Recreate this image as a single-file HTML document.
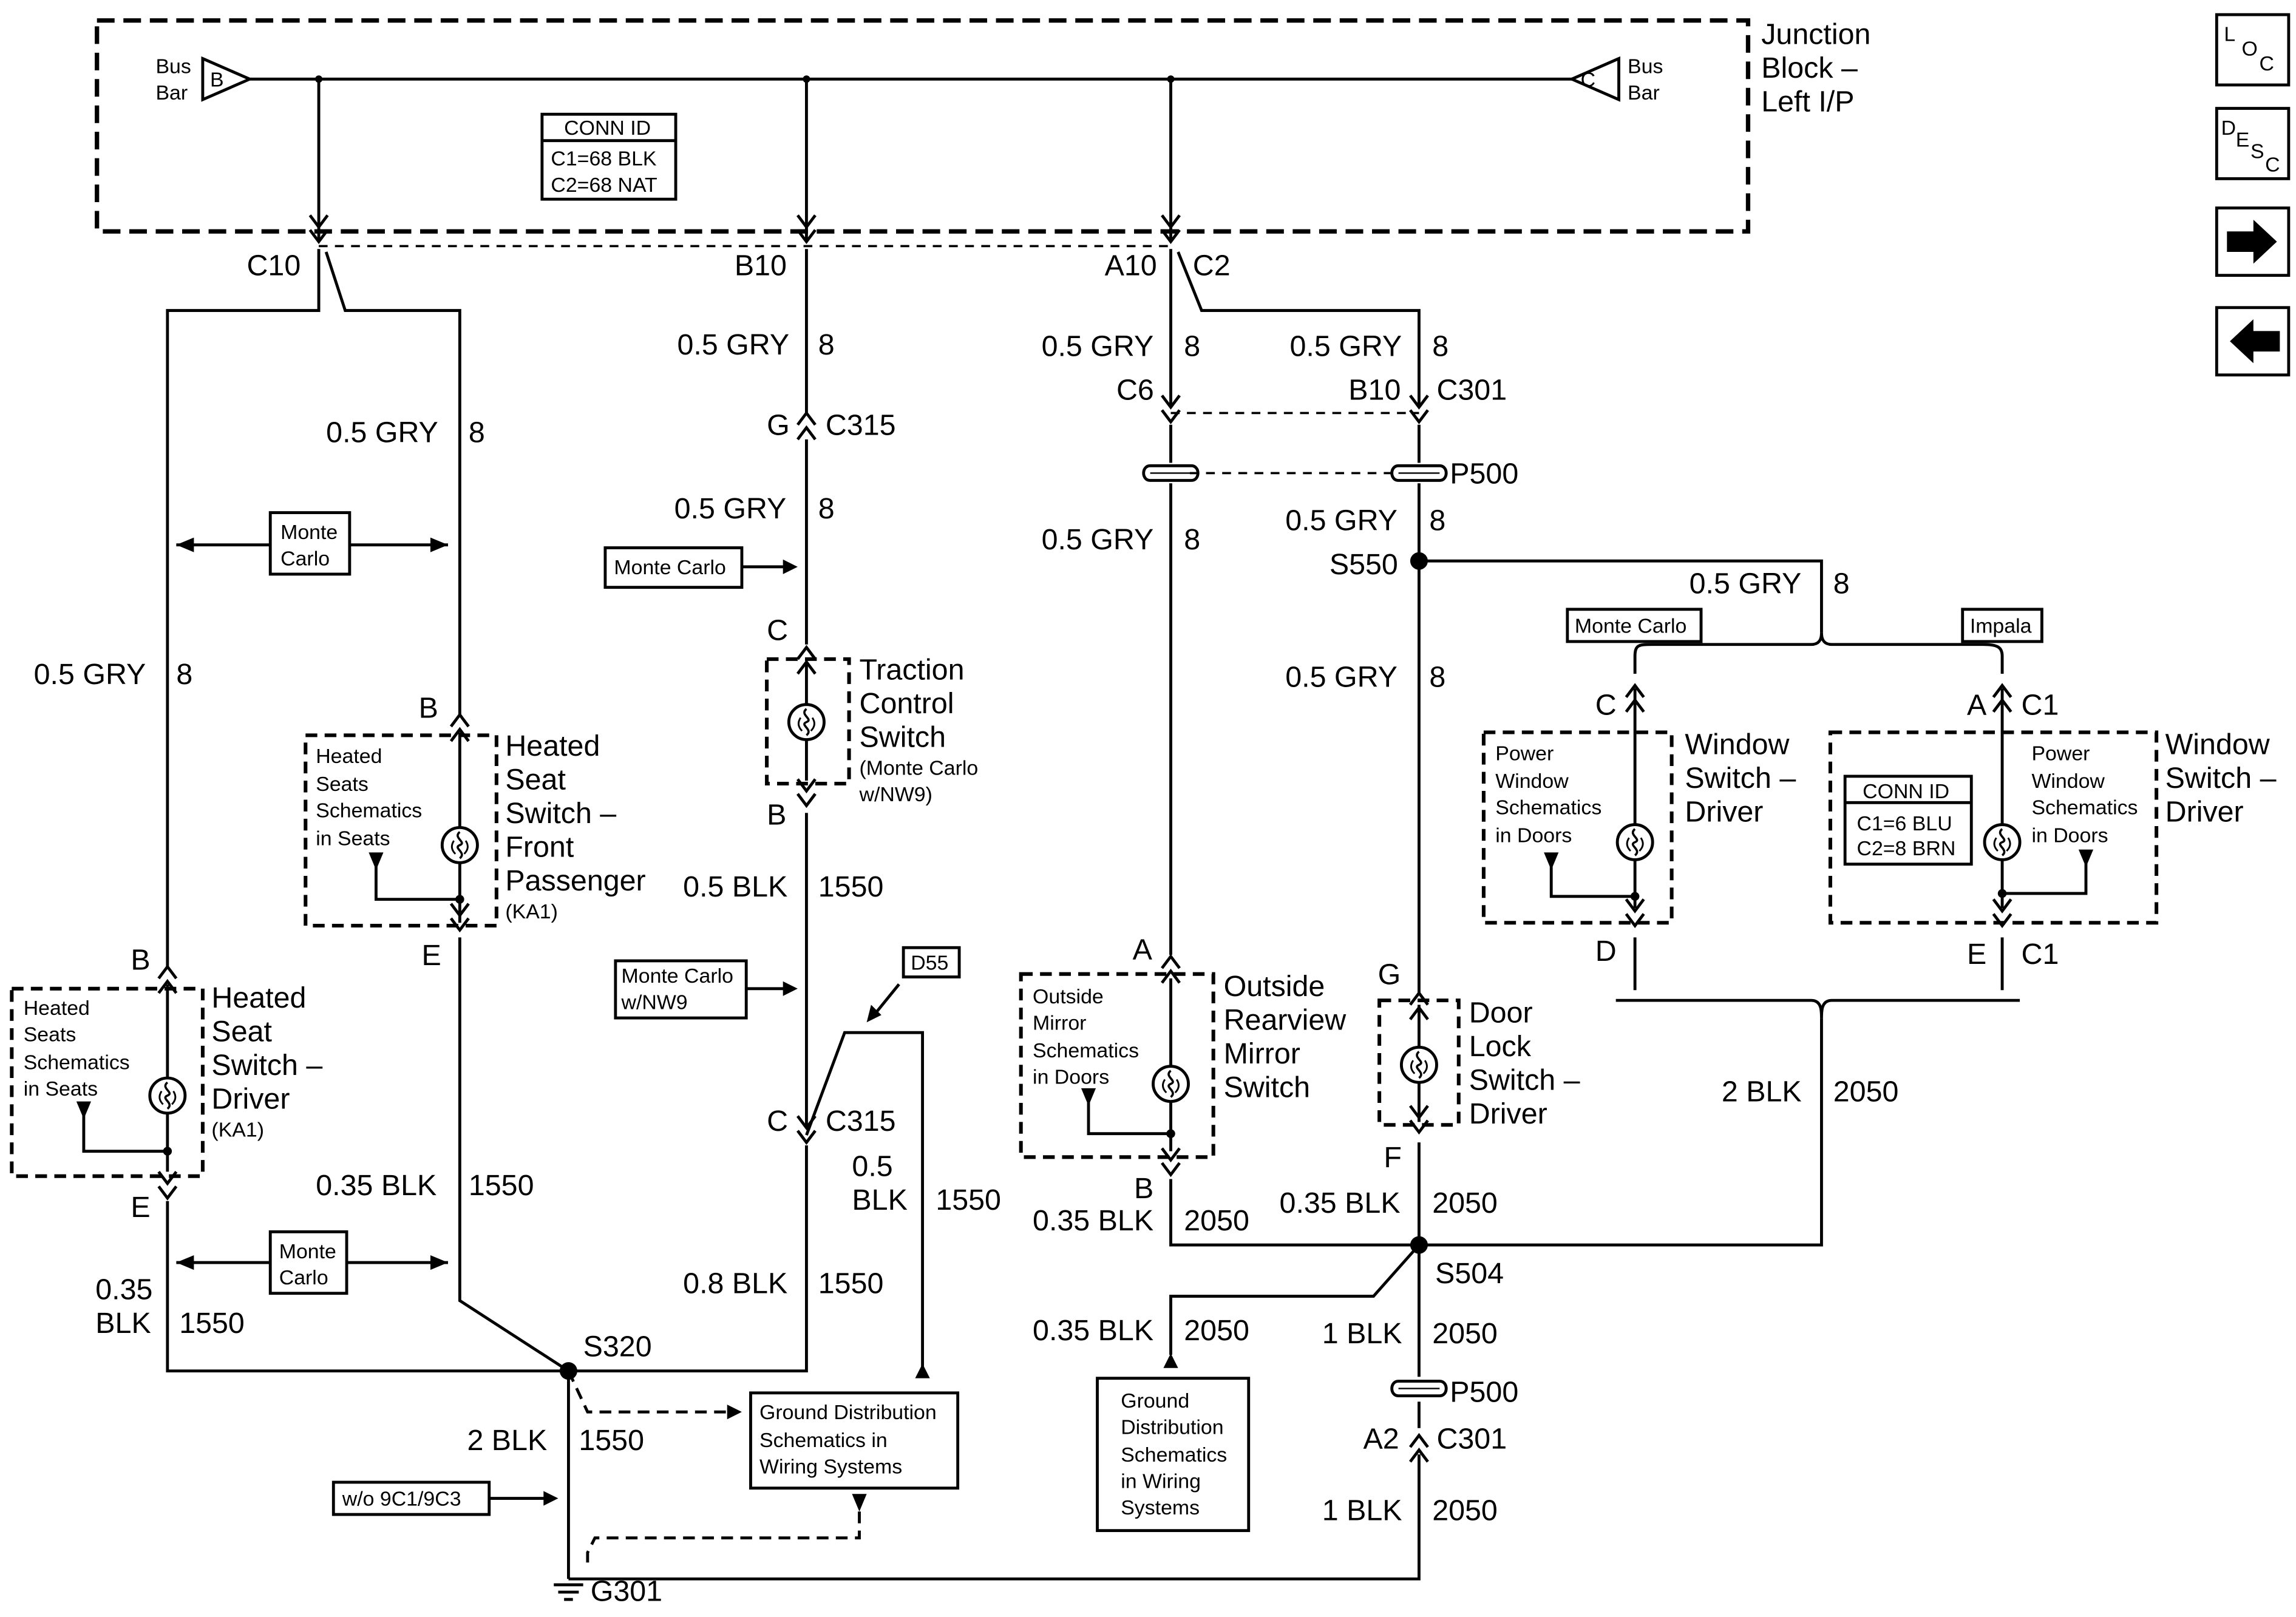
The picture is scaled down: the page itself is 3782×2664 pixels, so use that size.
<!DOCTYPE html>
<html><head><meta charset="utf-8"><style>
html,body{margin:0;padding:0;background:#fff;}
svg{display:block;}
text{font-family:"Liberation Sans",Arial,sans-serif;fill:#000;}
.l{font-size:20px;}
.s{font-size:14px;}
.m{font-size:16px;}
</style></head><body>
<svg width="3782" height="2664" viewBox="0 0 1563 1104" preserveAspectRatio="none" xmlns="http://www.w3.org/2000/svg">
<defs>
<g id="cd"><path d="M-6,-8 L0,0 L6,-8" fill="none" stroke="#000" stroke-width="2"/><path d="M-6,2 L0,10 L6,2" fill="none" stroke="#000" stroke-width="2"/></g>
<g id="cu"><path d="M-6,8 L0,0 L6,8" fill="none" stroke="#000" stroke-width="2"/><path d="M-6,-2 L0,-10 L6,-2" fill="none" stroke="#000" stroke-width="2"/></g>
<g id="sw"><circle r="12" fill="#fff" stroke="#000" stroke-width="2"/><path d="M0,-9 C-5,-5 5,-2 0,0 C-5,2 5,5 0,9" fill="none" stroke="#000" stroke-width="1.5"/><path d="M-4,-3 C-6,0 -6,3 -3,6 M4,-3 C6,0 6,3 3,6" fill="none" stroke="#000" stroke-width="1.2"/></g>
<g id="p5"><path d="M-14,-5 L14,-5 M-14,5 L14,5 M-14,-5 C-20,-5 -20,5 -14,5 M14,-5 C20,-5 20,5 14,5" fill="none" stroke="#000" stroke-width="2"/><path d="M-14,0 L14,0" stroke="#000" stroke-width="1"/></g>
</defs>
<g fill="none" stroke="#000" stroke-width="2">
<!-- junction block -->
<rect x="66" y="14" width="1124" height="144" stroke-width="3" stroke-dasharray="12 6"/>
<path d="M170,54 L1070,54"/>
<path d="M138,40 L170,54 L138,68 Z"/>
<path d="M1102,40 L1070,54 L1102,68 Z"/>
<path d="M217,54 V165 M549,54 V165 M797,54 V165"/>
<path d="M217,168 H797" stroke-dasharray="6 5" stroke-width="1.5"/>
<rect x="369" y="78" width="91" height="58"/>
<path d="M369,96 H460"/>
<!-- C10 branches -->
<path d="M217,170 V212 H114 V660"/>
<path d="M222,172 L235,212 H313 V488"/>
<path d="M120,372 H305 M120,862 H305"/>
<rect x="184" y="350" width="54" height="42" fill="#fff"/>
<rect x="184" y="841" width="52" height="42" fill="#fff"/>
<!-- front passenger switch -->
<rect x="208" y="502" width="130" height="130" stroke-dasharray="8 5" stroke-width="2.5"/>
<path d="M313,500 V630"/>
<path d="M256,590 V614 H313"/>
<path d="M313,640 V888 L387,936"/>
<!-- driver switch -->
<rect x="8" y="675" width="130" height="128" stroke-dasharray="8 5" stroke-width="2.5"/>
<path d="M114,672 V800"/>
<path d="M57,760 V786 H114"/>
<path d="M114,820 V936 H549 V782"/>
<path d="M387,936 V1078"/>
<path d="M387,1078 H966 V993"/>
<!-- middle B10 -->
<path d="M549,170 V282 M549,300 V440 M549,555 V770"/>
<rect x="522" y="450" width="56" height="85" stroke-dasharray="8 5" stroke-width="2.5"/>
<path d="M549,452 V533"/>
<rect x="412" y="374" width="93" height="27"/>
<path d="M505,387 H538"/>
<rect x="419" y="656" width="89" height="39"/>
<path d="M508,675 H538"/>
<rect x="615" y="647" width="38" height="20"/>
<path d="M612,672 L595,693"/>
<path d="M549,775 L575,705 H628 V935"/>
<rect x="227" y="1012" width="106" height="22"/>
<path d="M333,1023 H372"/>
<path d="M387,936 L400,964 H495" stroke-dasharray="8 5"/>
<rect x="511" y="951" width="141" height="65"/>
<path d="M585,1032 V1050 H405 L400,1060 V1070" stroke-dasharray="8 5"/>
<!-- A10 column -->
<path d="M797,170 V278 M802,172 L818,212 H966 V278"/>
<path d="M797,282 H966" stroke-dasharray="6 5" stroke-width="1.5"/>
<path d="M810,323 H952" stroke-dasharray="6 5" stroke-width="1.5"/>
<path d="M797,290 V316 M797,330 V652 M966,290 V316 M966,330 V678"/>
<rect x="695" y="665" width="131" height="125" stroke-dasharray="8 5" stroke-width="2.5"/>
<path d="M797,668 V786"/>
<path d="M741,750 V774 H797"/>
<path d="M797,805 V850 H1240 V695"/>
<path d="M966,383 H1240 V432"/>
<path d="M1113,460 V448 C1113,440 1116,440 1125,440 H1233 C1240,440 1240,434 1240,432 C1240,434 1240,440 1247,440 H1350 C1360,440 1363,442 1363,448 V460"/>
<path d="M1100,683 H1233 C1240,683 1240,690 1240,695 C1240,690 1240,683 1247,683 H1375"/>
<path d="M1113,640 V676 M1363,640 V676"/>
<rect x="1067" y="416" width="91" height="22"/>
<rect x="1336" y="416" width="54" height="22"/>
<rect x="939" y="683" width="54" height="85" stroke-dasharray="8 5" stroke-width="2.5"/>
<path d="M966,686 V766 M966,780 V850"/>
<path d="M966,850 L935,885 H797 V925"/>
<rect x="747" y="941" width="103" height="104"/>
<path d="M966,850 V940 M966,957 V975"/>
<!-- window switches -->
<path d="M1113,470 V620"/>
<rect x="1010" y="500" width="128" height="130" stroke-dasharray="8 5" stroke-width="2.5"/>
<path d="M1056,590 V612 H1113"/>
<path d="M1363,470 V620"/>
<rect x="1246" y="500" width="222" height="130" stroke-dasharray="8 5" stroke-width="2.5"/>
<rect x="1256" y="530" width="86" height="60"/>
<path d="M1256,548 H1342"/>
<path d="M1420,585 V610 H1363"/>
<!-- icons -->
<rect x="1509" y="10" width="49" height="48"/>
<rect x="1509" y="74" width="49" height="48"/>
<rect x="1509" y="142" width="49" height="46"/>
<rect x="1509" y="210" width="49" height="46"/>
</g>
<!-- arrows/dots -->
<g fill="#000">
<circle cx="217" cy="54" r="2.5"/><circle cx="549" cy="54" r="2.5"/><circle cx="797" cy="54" r="2.5"/>
<circle cx="387" cy="936" r="6"/><circle cx="966" cy="383" r="6"/><circle cx="966" cy="850" r="6"/>
<circle cx="313" cy="614" r="3"/><circle cx="114" cy="786" r="3"/><circle cx="797" cy="774" r="3"/><circle cx="1113" cy="612" r="3"/><circle cx="1363" cy="610" r="3"/>
<path d="M120,372 l12,-5 v10z M305,372 l-12,-5 v10z M120,862 l12,-5 v10z M305,862 l-12,-5 v10z"/>
<path d="M543,387 l-10,-5 v10z M543,675 l-10,-5 v10z M380,1023 l-10,-5 v10z M505,964 l-10,-5 v10z"/>
<path d="M590,698 l3,-12 l7,7z"/>
<path d="M628,931 l-5,10 h10z M797,924 l-5,10 h10z"/>
<path d="M580,1020 h10 l-5,12z"/>
<path d="M251,582 h10 l-5,12z M52,752 h10 l-5,12z M736,743 h10 l-5,12z M1051,582 h10 l-5,12z M1415,580 h10 l-5,12z"/>
<path d="M1516,158 h18 v-8 l16,15 l-16,15 v-8 h-18z"/>
<path d="M1552,226 h-18 v-8 l-16,15 l16,15 v-8 h18z"/>
</g>
<!-- connectors -->
<use href="#cd" x="217" y="155"/><use href="#cd" x="549" y="155"/><use href="#cd" x="797" y="155"/>
<use href="#cu" x="549" y="292"/>
<use href="#cd" x="797" y="278"/><use href="#cd" x="966" y="278"/>
<use href="#p5" x="797" y="323"/><use href="#p5" x="966" y="323"/><use href="#p5" x="966" y="948"/>
<use href="#cu" x="966" y="990"/>
<use href="#cu" x="313" y="498"/><use href="#cd" x="313" y="625"/><use href="#sw" x="313" y="577"/>
<use href="#cu" x="114" y="670"/><use href="#cd" x="114" y="808"/><use href="#sw" x="114" y="748"/>
<use href="#cu" x="549" y="452"/><use href="#cd" x="549" y="540"/><use href="#sw" x="549" y="493"/>
<use href="#cd" x="549" y="770"/>
<use href="#cu" x="797" y="663"/><use href="#cd" x="797" y="792"/><use href="#sw" x="797" y="740"/>
<use href="#cu" x="966" y="688"/><use href="#cd" x="966" y="763"/><use href="#sw" x="966" y="727"/>
<use href="#cu" x="1113" y="478"/><use href="#cd" x="1113" y="622"/><use href="#sw" x="1113" y="575"/>
<use href="#cu" x="1363" y="478"/><use href="#cd" x="1363" y="622"/><use href="#sw" x="1363" y="575"/>
<!-- text -->
<text class="l" x="1199" y="30">Junction</text><text class="l" x="1199" y="53">Block –</text><text class="l" x="1199" y="76">Left I/P</text>
<text class="s" x="106" y="50">Bus</text><text class="s" x="106" y="68">Bar</text><text class="s" x="143" y="59">B</text>
<text class="s" x="1108" y="50">Bus</text><text class="s" x="1108" y="68">Bar</text><text class="s" x="1076" y="59">C</text>
<text class="s" x="384" y="92">CONN ID</text><text class="s" x="375" y="113">C1=68 BLK</text><text class="s" x="375" y="131">C2=68 NAT</text>
<text class="l" x="168" y="188">C10</text><text class="l" x="500" y="188">B10</text><text class="l" x="752" y="188">A10</text><text class="l" x="812" y="188">C2</text>
<text class="l" x="222" y="302">0.5 GRY</text><text class="l" x="319" y="302">8</text>
<text class="l" x="23" y="467">0.5 GRY</text><text class="l" x="120" y="467">8</text>
<text class="s" x="191" y="368">Monte</text><text class="s" x="191" y="386">Carlo</text>
<text class="s" x="190" y="859">Monte</text><text class="s" x="190" y="877">Carlo</text>
<text class="l" x="285" y="490">B</text><text class="l" x="287" y="659">E</text>
<text class="s" x="215" y="521">Heated</text><text class="s" x="215" y="540">Seats</text><text class="s" x="215" y="558">Schematics</text><text class="s" x="215" y="577">in Seats</text>
<text class="l" x="344" y="516">Heated</text><text class="l" x="344" y="539">Seat</text><text class="l" x="344" y="562">Switch –</text><text class="l" x="344" y="585">Front</text><text class="l" x="344" y="608">Passenger</text><text class="s" x="344" y="627">(KA1)</text>
<text class="l" x="89" y="662">B</text><text class="l" x="89" y="831">E</text>
<text class="s" x="16" y="693">Heated</text><text class="s" x="16" y="711">Seats</text><text class="s" x="16" y="730">Schematics</text><text class="s" x="16" y="748">in Seats</text>
<text class="l" x="144" y="688">Heated</text><text class="l" x="144" y="711">Seat</text><text class="l" x="144" y="734">Switch –</text><text class="l" x="144" y="757">Driver</text><text class="s" x="144" y="776">(KA1)</text>
<text class="l" x="65" y="887">0.35</text><text class="l" x="65" y="910">BLK</text><text class="l" x="122" y="910">1550</text>
<text class="l" x="215" y="816">0.35 BLK</text><text class="l" x="319" y="816">1550</text>
<text class="l" x="397" y="926">S320</text>
<text class="l" x="318" y="990">2 BLK</text><text class="l" x="394" y="990">1550</text>
<text class="s" x="233" y="1028">w/o 9C1/9C3</text>
<text class="l" x="402" y="1093">G301</text>
<text class="s" x="517" y="969">Ground Distribution</text><text class="s" x="517" y="988">Schematics in</text><text class="s" x="517" y="1006">Wiring Systems</text>
<text class="l" x="461" y="242">0.5 GRY</text><text class="l" x="557" y="242">8</text>
<text class="l" x="522" y="297">G</text><text class="l" x="562" y="297">C315</text>
<text class="l" x="459" y="354">0.5 GRY</text><text class="l" x="557" y="354">8</text>
<text class="s" x="418" y="392">Monte Carlo</text>
<text class="l" x="522" y="437">C</text><text class="l" x="522" y="563">B</text>
<text class="l" x="585" y="464">Traction</text><text class="l" x="585" y="487">Control</text><text class="l" x="585" y="510">Switch</text><text class="s" x="585" y="529">(Monte Carlo</text><text class="s" x="585" y="547">w/NW9)</text>
<text class="l" x="465" y="612">0.5 BLK</text><text class="l" x="557" y="612">1550</text>
<text class="s" x="423" y="671">Monte Carlo</text><text class="s" x="423" y="689">w/NW9</text>
<text class="s" x="620" y="662">D55</text>
<text class="l" x="522" y="772">C</text><text class="l" x="562" y="772">C315</text>
<text class="l" x="580" y="803">0.5</text><text class="l" x="580" y="826">BLK</text><text class="l" x="637" y="826">1550</text>
<text class="l" x="465" y="883">0.8 BLK</text><text class="l" x="557" y="883">1550</text>
<text class="l" x="709" y="243">0.5 GRY</text><text class="l" x="806" y="243">8</text>
<text class="l" x="878" y="243">0.5 GRY</text><text class="l" x="975" y="243">8</text>
<text class="l" x="760" y="273">C6</text><text class="l" x="918" y="273">B10</text><text class="l" x="978" y="273">C301</text>
<text class="l" x="987" y="330">P500</text>
<text class="l" x="709" y="375">0.5 GRY</text><text class="l" x="806" y="375">8</text>
<text class="l" x="875" y="362">0.5 GRY</text><text class="l" x="973" y="362">8</text>
<text class="l" x="905" y="392">S550</text>
<text class="l" x="1150" y="405">0.5 GRY</text><text class="l" x="1248" y="405">8</text>
<text class="s" x="1072" y="432">Monte Carlo</text><text class="s" x="1341" y="432">Impala</text>
<text class="l" x="875" y="469">0.5 GRY</text><text class="l" x="973" y="469">8</text>
<text class="l" x="771" y="655">A</text><text class="l" x="772" y="818">B</text>
<text class="s" x="703" y="685">Outside</text><text class="s" x="703" y="703">Mirror</text><text class="s" x="703" y="722">Schematics</text><text class="s" x="703" y="740">in Doors</text>
<text class="l" x="833" y="680">Outside</text><text class="l" x="833" y="703">Rearview</text><text class="l" x="833" y="726">Mirror</text><text class="l" x="833" y="749">Switch</text>
<text class="l" x="938" y="672">G</text><text class="l" x="942" y="797">F</text>
<text class="l" x="1000" y="698">Door</text><text class="l" x="1000" y="721">Lock</text><text class="l" x="1000" y="744">Switch –</text><text class="l" x="1000" y="767">Driver</text>
<text class="l" x="703" y="840">0.35 BLK</text><text class="l" x="806" y="840">2050</text>
<text class="l" x="871" y="828">0.35 BLK</text><text class="l" x="975" y="828">2050</text>
<text class="l" x="977" y="876">S504</text>
<text class="l" x="703" y="915">0.35 BLK</text><text class="l" x="806" y="915">2050</text>
<text class="s" x="763" y="961">Ground</text><text class="s" x="763" y="979">Distribution</text><text class="s" x="763" y="998">Schematics</text><text class="s" x="763" y="1016">in Wiring</text><text class="s" x="763" y="1034">Systems</text>
<text class="l" x="900" y="917">1 BLK</text><text class="l" x="975" y="917">2050</text>
<text class="l" x="987" y="957">P500</text>
<text class="l" x="928" y="989">A2</text><text class="l" x="978" y="989">C301</text>
<text class="l" x="900" y="1038">1 BLK</text><text class="l" x="975" y="1038">2050</text>
<text class="l" x="1172" y="752">2 BLK</text><text class="l" x="1248" y="752">2050</text>
<text class="l" x="1086" y="488">C</text><text class="l" x="1086" y="656">D</text>
<text class="s" x="1018" y="519">Power</text><text class="s" x="1018" y="538">Window</text><text class="s" x="1018" y="556">Schematics</text><text class="s" x="1018" y="575">in Doors</text>
<text class="l" x="1147" y="515">Window</text><text class="l" x="1147" y="538">Switch –</text><text class="l" x="1147" y="561">Driver</text>
<text class="l" x="1339" y="488">A</text><text class="l" x="1376" y="488">C1</text>
<text class="l" x="1339" y="658">E</text><text class="l" x="1376" y="658">C1</text>
<text class="s" x="1268" y="545">CONN ID</text><text class="s" x="1264" y="567">C1=6 BLU</text><text class="s" x="1264" y="584">C2=8 BRN</text>
<text class="s" x="1383" y="519">Power</text><text class="s" x="1383" y="538">Window</text><text class="s" x="1383" y="556">Schematics</text><text class="s" x="1383" y="575">in Doors</text>
<text class="l" x="1474" y="515">Window</text><text class="l" x="1474" y="538">Switch –</text><text class="l" x="1474" y="561">Driver</text>
<text class="s" x="1514" y="28">L</text><text class="s" x="1526" y="38">O</text><text class="s" x="1538" y="48">C</text>
<text class="s" x="1512" y="92">D</text><text class="s" x="1522" y="100">E</text><text class="s" x="1532" y="108">S</text><text class="s" x="1542" y="117">C</text>
</svg>
<svg style="position:absolute;left:0;top:0" width="3782" height="2664" viewBox="0 0 1563 1104" preserveAspectRatio="none"><g stroke="#000" stroke-width="2"><path d="M377,1082 H397 M380,1087 H394 M384,1092 H390"/></g></svg>
</body></html>
